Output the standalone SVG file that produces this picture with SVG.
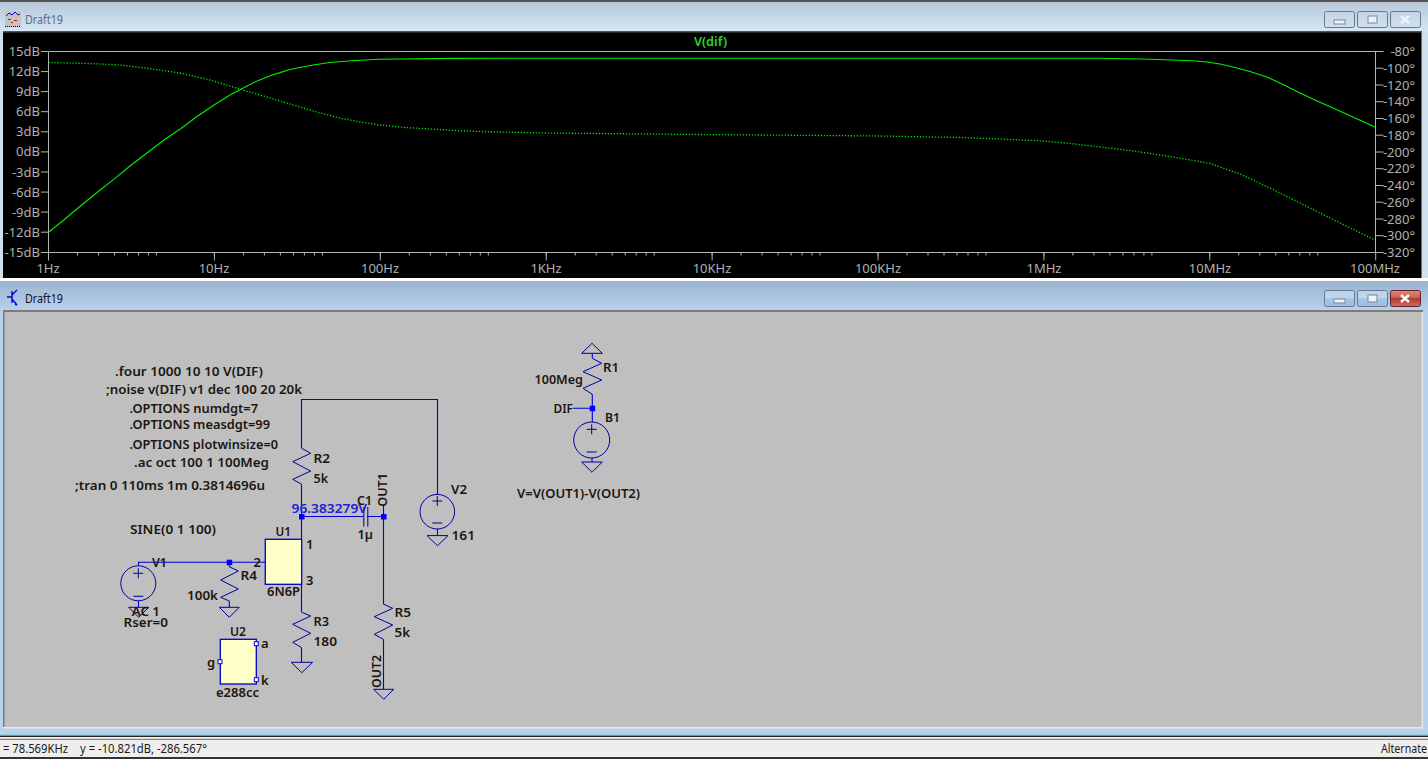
<svg xmlns="http://www.w3.org/2000/svg" xmlns:xlink="http://www.w3.org/1999/xlink" width="1428" height="759" viewBox="0 0 1428 759">
<style>
text{font-family:"Noto Sans","Liberation Sans",Arial,sans-serif}
.t{font-size:13px;font-weight:600;fill:#1c1610}
.pr{font-size:13px;fill:#b0b0b0;text-anchor:end}
.pc{font-size:13px;fill:#b0b0b0;text-anchor:middle}
.w{fill:none;stroke:#0000e0;stroke-width:1.100}
.sym{fill:none;stroke:#00009c;stroke-width:1}
.body{fill:#ffffc8;stroke:#0000c8;stroke-width:1.300}
.j{fill:#0000ff}
.pin{fill:#ffffc8;stroke:#0000ff;stroke-width:1}
.ax{fill:none;stroke:#b4b4b4;stroke-width:1}
.btn{stroke:#67788f;stroke-width:1}
.st{font-size:12px;fill:#1a1a1a}
</style>
<defs>
<linearGradient id="tb1" x1="0" y1="0" x2="0" y2="1"><stop offset="0" stop-color="#b6c8da"/><stop offset="1" stop-color="#d6e5f2"/></linearGradient>
<linearGradient id="tb2" x1="0" y1="0" x2="0" y2="1"><stop offset="0" stop-color="#9ab4cf"/><stop offset="1" stop-color="#b9d2eb"/></linearGradient>
<linearGradient id="bg" x1="0" y1="0" x2="0" y2="1"><stop offset="0" stop-color="#c4d4e4"/><stop offset="1" stop-color="#cfdfee"/></linearGradient>
<linearGradient id="bg2" x1="0" y1="0" x2="0" y2="1"><stop offset="0" stop-color="#bcd3ea"/><stop offset="0.5" stop-color="#c0d6ec"/><stop offset="0.5" stop-color="#a8c6e6"/><stop offset="1" stop-color="#9dbcdf"/></linearGradient>
<linearGradient id="red" x1="0" y1="0" x2="0" y2="1"><stop offset="0" stop-color="#d98a7c"/><stop offset="0.5" stop-color="#c4604f"/><stop offset="0.5" stop-color="#b23b2b"/><stop offset="1" stop-color="#c8705f"/></linearGradient>
<path id="minor" class="ax" d="M50 252.500v3M79 252.500v3M100 252.500v3M116 252.500v3M129 252.500v3M140 252.500v3M150 252.500v3M158 252.500v3"/>
</defs>

<g id="desktop">
<rect width="1428" height="759" fill="#b9d2eb"/>
<rect x="0" y="0" width="1428" height="2" fill="#555"/>
<rect x="0" y="2" width="1428" height="29" fill="url(#tb1)"/>
<rect x="0" y="31" width="4" height="247" fill="#d0dfec"/>
<rect x="1421" y="31" width="7" height="247" fill="#d0dfec"/>
<rect x="0" y="278" width="1428" height="3" fill="#fff"/>
<rect x="0" y="281" width="1428" height="30" fill="url(#tb2)"/>
<rect x="0" y="311" width="1428" height="427" fill="#b9d2eb"/>
</g>

<g id="plot-window">
<rect x="3" y="31" width="1418.500" height="247" fill="#000"/>
<rect x="3" y="31" width="1418.500" height="1.500" fill="#555"/>
<text x="25" y="24" font-size="12.500" fill="#5a6c84" textLength="38" lengthAdjust="spacingAndGlyphs">Draft19</text>
<g id="plot-icon">
<rect x="5" y="11" width="16" height="16" fill="#c4c4c4"/>
<path d="M6 16l3-3 3 2 3-3 3 3 2-1" fill="none" stroke="#0000e0"/>
<path d="M8 19.500h3M14 20.500h3M11 22.500h2" stroke="#e00000" fill="none"/>
<path d="M5 26.500h16" stroke="#000" stroke-dasharray="1 1" fill="none"/>
</g>
<g id="plot-buttons">
<rect x="1324.500" y="11.500" width="30" height="16" rx="2" fill="url(#bg)" class="btn"/>
<rect x="1334" y="20" width="11" height="4" fill="#eef2f6" stroke="#7a8798"/>
<rect x="1357.500" y="11.500" width="30" height="16" rx="2" fill="url(#bg)" class="btn"/>
<rect x="1368" y="16" width="9" height="7" fill="#eef2f6" stroke="#7a8798"/>
<rect x="1390.500" y="11.500" width="30" height="16" rx="2" fill="url(#bg)" class="btn"/>
<path d="M1401 16l8 7M1409 16l-8 7" stroke="#eef2f6" stroke-width="2.600" fill="none"/>
</g>
<path class="ax" d="M48.500 51.500H1375.500V252.500H48.500Z"/>
<path class="ax" d="M41 51.500h7M41 71.600h7M41 91.600h7M41 111.700h7M41 131.800h7M41 151.900h7M41 172h7M41 192.100h7M41 212.100h7M41 232.200h7M41 252.500h7"/>
<path class="ax" d="M1375.500 51.500h8M1375.500 68.200h8M1375.500 85h8M1375.500 101.700h8M1375.500 118.500h8M1375.500 135.200h8M1375.500 152h8M1375.500 168.700h8M1375.500 185.500h8M1375.500 202.200h8M1375.500 219h8M1375.500 235.700h8M1375.500 252.500h8"/>
<path class="ax" d="M48.500 252.500v8M214.400 252.500v8M380.300 252.500v8M546.200 252.500v8M712.100 252.500v8M878 252.500v8M1043.900 252.500v8M1209.800 252.500v8M1375.700 252.500v8"/>
<use xlink:href="#minor" x="-1.500"/><use xlink:href="#minor" x="164.400"/><use xlink:href="#minor" x="330.300"/><use xlink:href="#minor" x="496.200"/><use xlink:href="#minor" x="662.100"/><use xlink:href="#minor" x="828"/><use xlink:href="#minor" x="993.900"/><use xlink:href="#minor" x="1159.800"/>
<text x="694" y="45.500" font-size="13" font-weight="600" fill="#22dd22" textLength="33" lengthAdjust="spacingAndGlyphs">V(dif)</text>
<g>
<text class="pr" x="40" y="56">15dB</text><text class="pr" x="40" y="76">12dB</text><text class="pr" x="40" y="96">9dB</text><text class="pr" x="40" y="116">6dB</text><text class="pr" x="40" y="136">3dB</text><text class="pr" x="40" y="156">0dB</text><text class="pr" x="40" y="176.500">-3dB</text><text class="pr" x="40" y="196.500">-6dB</text><text class="pr" x="40" y="216.500">-9dB</text><text class="pr" x="40" y="236.500">-12dB</text><text class="pr" x="40" y="257">-15dB</text>
</g>
<g>
<text class="pr" x="1415" y="56">-80°</text><text class="pr" x="1415" y="73">-100°</text><text class="pr" x="1415" y="89.500">-120°</text><text class="pr" x="1415" y="106">-140°</text><text class="pr" x="1415" y="123">-160°</text><text class="pr" x="1415" y="140">-180°</text><text class="pr" x="1415" y="156.500">-200°</text><text class="pr" x="1415" y="173">-220°</text><text class="pr" x="1415" y="190">-240°</text><text class="pr" x="1415" y="207">-260°</text><text class="pr" x="1415" y="223.500">-280°</text><text class="pr" x="1415" y="240">-300°</text><text class="pr" x="1415" y="257">-320°</text>
</g>
<g>
<text class="pc" x="48" y="273">1Hz</text><text class="pc" x="214" y="273">10Hz</text><text class="pc" x="380" y="273">100Hz</text><text class="pc" x="546" y="273">1KHz</text><text class="pc" x="712" y="273">10KHz</text><text class="pc" x="878" y="273">100KHz</text><text class="pc" x="1044" y="273">1MHz</text><text class="pc" x="1210" y="273">10MHz</text><text class="pc" x="1375" y="273">100MHz</text>
</g>
<polyline id="magnitude" fill="none" stroke="#00f000" stroke-width="1.100" points="48.500,232.200 65,219 81,205.500 97,192.500 114,179.100 130,166 147,153 164,140 181,128.500 197,116.500 214,105 230,95 247,86 256,81.500 264,78.300 272,75 280,72.600 288,70 297,68 313,65 330,62.500 355,60.500 380,59.300 450,58.400 546,58.200 1100,58.200 1142,59 1173,60 1195,61 1207,62 1220,64 1233,67 1250,71.500 1267,77 1283,84.500 1300,93 1316,100.500 1333,108 1354,117.500 1375,127"/>
<polyline id="phase" fill="none" stroke="#00f000" stroke-width="1.300" stroke-dasharray="1.200 1.800" points="48.500,62.500 88,63.500 120,65 145,68 180,73 210,80 243,90 270,98 300,107 320,113 340,118 360,122 380,125 405,127.500 430,129 465,131 500,132 546,133 700,134.500 880,136 960,137.500 1000,139 1044,141 1075,144 1100,147 1130,150.500 1160,155 1185,159 1210,163.500 1240,174 1270,188 1300,203 1340,223 1375,240"/>
</g>

<g id="schematic-window">
<rect x="3" y="310" width="1420" height="418.500" fill="#e6eaee"/>
<rect x="4" y="312" width="1417.700" height="415" fill="#bfbfbf"/>
<rect x="3" y="310" width="1420" height="2" fill="#7c7c7c"/>
<rect x="3" y="310" width="1.500" height="417" fill="#7c7c7c"/>
<text x="25" y="303" font-size="12.500" fill="#1a1028" textLength="38" lengthAdjust="spacingAndGlyphs">Draft19</text>
<path id="schematic-icon" d="M12 291v12M7 297h5M12 295l5-5M12 299l5 6M15 304l2 1" fill="none" stroke="#0000e0" stroke-width="1.400"/>
<g id="schematic-buttons">
<rect x="1324.500" y="290.500" width="30" height="16" rx="2" fill="url(#bg2)" class="btn"/>
<rect x="1334" y="299" width="11" height="4" fill="#eef2f6" stroke="#7a8798"/>
<rect x="1357.500" y="290.500" width="30" height="16" rx="2" fill="url(#bg2)" class="btn"/>
<rect x="1368" y="295" width="9" height="7" fill="#eef2f6" stroke="#7a8798"/>
<rect x="1390.500" y="290.500" width="30" height="16" rx="2" fill="url(#red)" stroke="#6c1c2c"/>
<path d="M1401 295l8 7M1409 295l-8 7" stroke="#f4f4f4" stroke-width="2.600" fill="none"/>
</g>
</g>

<g id="directives">
<text class="t" x="115" y="375.700" textLength="148" lengthAdjust="spacingAndGlyphs">.four 1000 10 10 V(DIF)</text>
<text class="t" x="106" y="394.300" textLength="196" lengthAdjust="spacingAndGlyphs">;noise v(DIF) v1 dec 100 20 20k</text>
<text class="t" x="129.500" y="412.700" textLength="128.500" lengthAdjust="spacingAndGlyphs">.OPTIONS numdgt=7</text>
<text class="t" x="129.500" y="429" textLength="140.500" lengthAdjust="spacingAndGlyphs">.OPTIONS measdgt=99</text>
<text class="t" x="129.500" y="449" textLength="148.500" lengthAdjust="spacingAndGlyphs">.OPTIONS plotwinsize=0</text>
<text class="t" x="134" y="467" textLength="135" lengthAdjust="spacingAndGlyphs">.ac oct 100 1 100Meg</text>
<text class="t" x="75" y="490" textLength="190" lengthAdjust="spacingAndGlyphs">;tran 0 110ms 1m 0.3814696u</text>
<text class="t" x="130" y="534.300" textLength="86" lengthAdjust="spacingAndGlyphs">SINE(0 1 100)</text>
<text class="t" x="517" y="497.500" textLength="123" lengthAdjust="spacingAndGlyphs">V=V(OUT1)-V(OUT2)</text>
</g>

<g id="connectors">
<path class="w" d="M301.500 448.300V399.500H437.500V494.500"/>
<path class="w" d="M301.500 484.300V539.300"/>
<path class="w" d="M301.500 516.500H363.300M367.300 516.500H383.500"/>
<path class="w" d="M383.500 506V604M383.500 639.300V689.300"/>
<path class="w" d="M138.500 565.700V562.300H265.300"/>
<path class="w" d="M229.300 562.300V566.700"/>
<path class="w" d="M301.500 584.300V612.300M301.500 647.700V662.300"/>
<path class="w" d="M592.300 353.300V358.300M592.300 394.300V422M573 408.300H592.300"/>
<path class="w" d="M437.500 529V535.600M138.500 601V607.300M229.300 601V607.300M592 458V462"/>
<rect class="j" x="299" y="514" width="5.500" height="5.500"/>
<rect class="j" x="381" y="514" width="5.500" height="5.500"/>
<rect class="j" x="226.700" y="559.700" width="5.500" height="5.500"/>
<rect class="j" x="589.700" y="405.700" width="5.500" height="5.500"/>
</g>

<g id="R2"><polyline class="sym" points="301.700,448.300 310.700,453.300 292.700,461.700 310.700,471 292.700,479.300 301.700,484.300"/><text class="t" x="313.500" y="463" textLength="16.500" lengthAdjust="spacingAndGlyphs">R2</text><text class="t" x="313.500" y="483" textLength="14.500" lengthAdjust="spacingAndGlyphs">5k</text></g>
<g id="C1"><path class="sym" d="M363.800 507V526.700M367.800 507V526.700"/><text class="t" x="357" y="504.500" textLength="15" lengthAdjust="spacingAndGlyphs">C1</text><text class="t" x="357.500" y="538.500" textLength="15.500" lengthAdjust="spacingAndGlyphs">1µ</text></g>
<g id="V2"><circle class="sym" cx="437.300" cy="511.700" r="17.300"/><path class="sym" d="M432.300 501h10M437.300 496v10M432.300 523h10"/><path class="sym" d="M427 535.600h21L437.500 545.700Z"/><text class="t" x="451" y="494" textLength="16" lengthAdjust="spacingAndGlyphs">V2</text><text class="t" x="451.500" y="540" textLength="23.500" lengthAdjust="spacingAndGlyphs">161</text></g>
<g id="U1"><rect class="body" x="265.300" y="539.300" width="36.400" height="45"/><text class="t" x="275.500" y="535.700" textLength="15.500" lengthAdjust="spacingAndGlyphs">U1</text><text class="t" x="306" y="549">1</text><text class="t" x="253.500" y="566.700">2</text><text class="t" x="306" y="584.700">3</text><text class="t" x="267" y="596.200" textLength="33" lengthAdjust="spacingAndGlyphs">6N6P</text></g>
<g id="V1"><circle class="sym" cx="138.300" cy="583.300" r="17.500"/><path class="sym" d="M133.300 573.300h10M138.300 568.300v10M133.300 596.300h10"/><path class="sym" d="M128.700 607.300h20L138.700 617.300Z"/><text class="t" x="131.700" y="615.700" textLength="28.300" lengthAdjust="spacingAndGlyphs">AC 1</text><text class="t" x="152" y="566.700" textLength="15" lengthAdjust="spacingAndGlyphs">V1</text><text class="t" x="123.500" y="627.300" textLength="44.500" lengthAdjust="spacingAndGlyphs">Rser=0</text></g>
<g id="R4"><polyline class="sym" points="229.300,566.700 238.300,571 220.700,580 238.300,589 220.700,597.300 229.300,601"/><path class="sym" d="M219.300 607.300h20L229.300 617.300Z"/><text class="t" x="240.500" y="580.200" textLength="16.500" lengthAdjust="spacingAndGlyphs">R4</text><text class="t" x="187" y="600.200" textLength="31" lengthAdjust="spacingAndGlyphs">100k</text></g>
<g id="R3"><polyline class="sym" points="301.700,612.300 310.700,616 292.700,624.300 310.700,633.300 292.700,642.300 301.700,647.700"/><path class="sym" d="M291.300 662.300h21.400L301.700 672.700Z"/><text class="t" x="313.500" y="626" textLength="15.500" lengthAdjust="spacingAndGlyphs">R3</text><text class="t" x="313.500" y="646" textLength="23.500" lengthAdjust="spacingAndGlyphs">180</text></g>
<g id="R5"><polyline class="sym" points="383.300,604 392.700,608.300 374.300,616.700 392.700,625 374.300,634.300 383.300,639.300"/><path class="sym" d="M373.700 689.300h20L383.700 699.300Z"/><text class="t" x="394.500" y="617.400" textLength="16.500" lengthAdjust="spacingAndGlyphs">R5</text><text class="t" x="394.500" y="637.400" textLength="15.500" lengthAdjust="spacingAndGlyphs">5k</text></g>
<g id="OUT1"><text class="t" transform="rotate(-90 387.500 506.700)" x="387.500" y="506.700" textLength="33.500" lengthAdjust="spacingAndGlyphs">OUT1</text></g>
<g id="OUT2"><text class="t" transform="rotate(-90 380.500 688)" x="380.500" y="688" textLength="33" lengthAdjust="spacingAndGlyphs">OUT2</text></g>
<g id="op-point"><text x="291.500" y="513.200" font-size="13" font-weight="600" fill="#2020d8" textLength="75.500" lengthAdjust="spacingAndGlyphs">96.383279V</text></g>
<g id="U2"><rect class="body" x="220.300" y="639.300" width="36" height="44.700"/><rect class="pin" x="254.300" y="641.700" width="4" height="4"/><rect class="pin" x="254.300" y="677.700" width="4" height="4"/><rect class="pin" x="218" y="659.700" width="4" height="4"/><text class="t" x="230" y="636.400" textLength="16" lengthAdjust="spacingAndGlyphs">U2</text><text class="t" x="261" y="648">a</text><text class="t" x="207" y="666.700">g</text><text class="t" x="261" y="685">k</text><text class="t" x="216" y="696.700" textLength="43" lengthAdjust="spacingAndGlyphs">e288cc</text></g>
<g id="R1"><path class="sym" d="M581.700 353.300h20.600L592 343.300Z"/><polyline class="sym" points="592.300,358.300 601.700,363.300 583,371.700 601.700,380 583,388.300 592.300,394.300"/><text class="t" x="603" y="372.400" textLength="16" lengthAdjust="spacingAndGlyphs">R1</text><text class="t" x="534.500" y="383.500" textLength="48.500" lengthAdjust="spacingAndGlyphs">100Meg</text></g>
<g id="DIF"><text class="t" x="553.500" y="412.500" textLength="19.500" lengthAdjust="spacingAndGlyphs">DIF</text></g>
<g id="B1"><circle class="sym" cx="591.700" cy="440" r="18"/><path class="sym" d="M586.700 429.300h10M591.700 424.300v10M586.700 452h10"/><path class="sym" d="M581.700 462h20.600L592 472.300Z"/><text class="t" x="605" y="422.400" textLength="15" lengthAdjust="spacingAndGlyphs">B1</text></g>

<g id="statusbar">
<rect x="0" y="734.800" width="1428" height="1.200" fill="#1fb8c8"/>
<rect x="0" y="736" width="1428" height="1" fill="#222"/>
<rect x="0" y="737" width="1428" height="2" fill="#f4f4f4"/>
<rect x="0" y="738.700" width="1428" height="1.300" fill="#8a8a8a"/>
<rect x="0" y="740" width="1428" height="17" fill="#f0eded"/>
<rect x="0" y="757" width="1428" height="2" fill="#333"/>
<text class="st" x="3" y="752.700" textLength="65" lengthAdjust="spacingAndGlyphs">= 78.569KHz</text>
<text class="st" x="80" y="752.700" textLength="127" lengthAdjust="spacingAndGlyphs">y = -10.821dB, -286.567°</text>
<text class="st" x="1381" y="752.700" textLength="46" lengthAdjust="spacingAndGlyphs">Alternate</text>
</g>
</svg>
